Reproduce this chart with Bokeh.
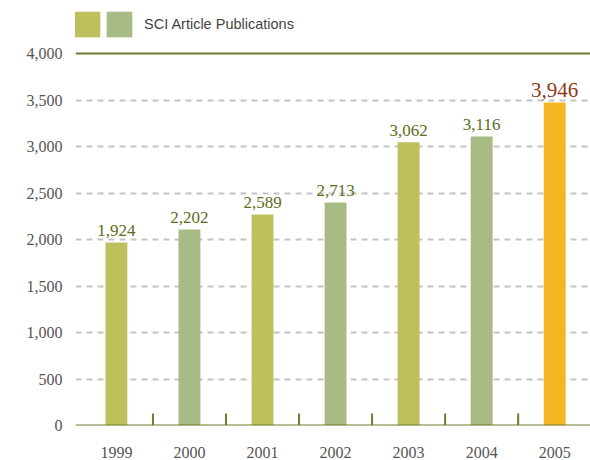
from bokeh.plotting import figure
from bokeh.models import (ColumnDataSource, FixedTicker, Span, Legend, LegendItem,
                          NumeralTickFormatter, Range1d)
from bokeh.core.properties import value
from bokeh.embed import file_html
from bokeh.resources import INLINE

# ---- data ----
years = ["1999", "2000", "2001", "2002", "2003", "2004", "2005"]
bar_heights = [1968, 2108, 2269, 2398, 3047, 3108, 3473]
value_labels = ["1,924", "2,202", "2,589", "2,713", "3,062", "3,116", "3,946"]
bar_colors = ["#bec05e", "#a9bb85", "#bec05e", "#a9bb85", "#bec05e", "#a9bb85", "#f6b624"]
label_colors = ["#5f6b1c"] * 6 + ["#8b3a1a"]
label_sizes = ["17px"] * 6 + ["21px"]
y_ticks = [0, 500, 1000, 1500, 2000, 2500, 3000, 3500, 4000]
legend_label = "SCI Article Publications"

OLIVE = "#6e7d2b"
SERIF = "Liberation Serif"

xs = list(range(len(years)))
src = ColumnDataSource(dict(x=xs, top=bar_heights, lab=value_labels, color=bar_colors,
                            lcolor=label_colors, lsize=label_sizes))

# frame spans the whole height above the axis; 4000 sits at 372px above the base
p = figure(width=590, height=460, output_backend="svg", toolbar_location=None,
           x_range=Range1d(-0.56, 6.49), y_range=Range1d(0, 4000 * 425 / 372),
           min_border_left=75, min_border_right=0, min_border_top=0, min_border_bottom=35)
p.outline_line_color = None
p.background_fill_color = "white"

# grid
p.xgrid.visible = False
p.ygrid.ticker = FixedTicker(ticks=y_ticks[1:-1])
p.ygrid.grid_line_color = "#c4c4c4"
p.ygrid.grid_line_width = 2
p.ygrid.grid_line_dash = "6 5"

# bars
r = p.vbar(x="x", top="top", width=0.3, fill_color="color", line_color=None, source=src)

# value labels
p.text(x="x", y="top", text="lab", text_color="lcolor", text_font=value(SERIF),
       text_font_size="lsize", text_align="center", text_baseline="bottom",
       y_offset=-6, source=src)

# separators between categories
sep_x = [i + 0.5 for i in xs[:-1]]
p.segment(x0=sep_x, y0=[0] * len(sep_x), x1=sep_x, y1=[130] * len(sep_x),
          line_color=OLIVE, line_width=2)

# top and base lines
p.add_layout(Span(location=y_ticks[-1], dimension="width", line_color=OLIVE, line_width=2))
p.add_layout(Span(location=y_ticks[0], dimension="width", line_color=OLIVE, line_width=2))

# axes
p.yaxis.ticker = FixedTicker(ticks=y_ticks)
p.yaxis.formatter = NumeralTickFormatter(format="0,0")
p.yaxis.axis_line_color = None
p.yaxis.major_tick_line_color = None
p.yaxis.minor_tick_line_color = None
p.yaxis.major_tick_out = 0
p.yaxis.major_label_standoff = 13
p.yaxis.major_label_text_font = SERIF
p.yaxis.major_label_text_font_size = "16px"
p.yaxis.major_label_text_color = "#555555"

p.xaxis.ticker = FixedTicker(ticks=xs)
p.xaxis.major_label_overrides = {i: y for i, y in zip(xs, years)}
p.xaxis.axis_line_color = None
p.xaxis.major_tick_line_color = None
p.xaxis.minor_tick_line_color = None
p.xaxis.major_tick_out = 0
p.xaxis.major_label_standoff = 21
p.xaxis.major_label_text_font = SERIF
p.xaxis.major_label_text_font_size = "16px"
p.xaxis.major_label_text_color = "#555555"

# legend: two colour swatches, then the series name
swatches = Legend(items=[LegendItem(label="", renderers=[r], index=0),
                         LegendItem(label="", renderers=[r], index=1)],
                  orientation="horizontal", location=(-4, 385),
                  glyph_width=32, glyph_height=32, label_width=0,
                  label_standoff=0, spacing=0, padding=0, margin=0,
                  border_line_color=None, background_fill_alpha=0)
p.add_layout(swatches, "center")

name_legend = Legend(items=[LegendItem(label=legend_label, renderers=[r], index=1)],
                     orientation="horizontal", location=(69, 385),
                     glyph_width=0, glyph_height=32, label_width=0,
                     label_standoff=0, spacing=0, padding=0, margin=0,
                     border_line_color=None, background_fill_alpha=0,
                     label_text_font="Liberation Sans", label_text_font_size="14.5px",
                     label_text_color="#444444")
p.add_layout(name_legend, "center")

open("out.html", "w").write(file_html(p, INLINE))
